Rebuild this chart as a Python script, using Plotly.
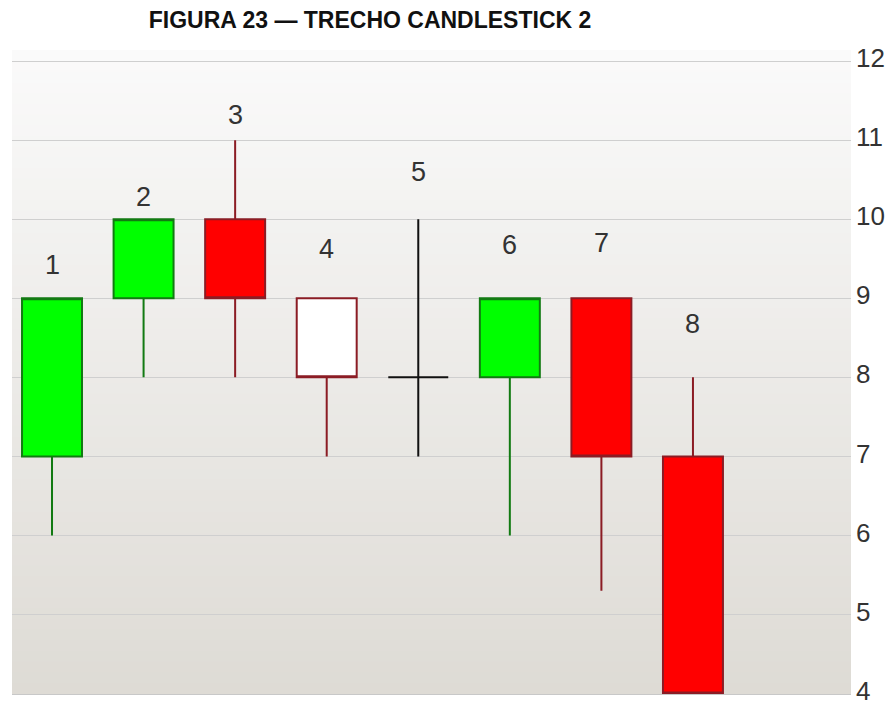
import plotly.graph_objects as go

# candle data (1..8)
candle_ids = [1, 2, 3, 4, 5, 6, 7, 8]
opens = [7, 9, 10, 9, 8, 8, 9, 7]
highs = [9, 10, 11, 9, 10, 9, 9, 8]
lows = [6, 8, 8, 7, 7, 6, 5.3, 4]
closes = [9, 10, 9, 8, 8, 9, 7, 4]
label_y = [9.42, 10.28, 11.32, 9.62, 10.6, 9.68, 9.7, 8.67]
y_ticks = [4, 5, 6, 7, 8, 9, 10, 11, 12]

GREEN = "#00ff00"
GREEN_LINE = "#127a12"
RED = "#ff0000"
RED_LINE = "#8b1c24"
FONT = "Liberation Sans, Arial"

filled = [0, 1, 2, 5, 6, 7]
hollow = [3]
doji = [4]


def pick(vals, idx):
    return [vals[i] for i in idx]


def candle(idx, inc_fill, inc_line, dec_fill, dec_line):
    return go.Candlestick(
        x=pick(candle_ids, idx),
        open=pick(opens, idx),
        high=pick(highs, idx),
        low=pick(lows, idx),
        close=pick(closes, idx),
        increasing=dict(fillcolor=inc_fill, line=dict(color=inc_line, width=2)),
        decreasing=dict(fillcolor=dec_fill, line=dict(color=dec_line, width=2)),
        whiskerwidth=0,
        showlegend=False,
        hoverinfo="skip",
    )


fig = go.Figure()
fig.add_trace(candle(filled, GREEN, GREEN_LINE, RED, RED_LINE))
fig.add_trace(candle(hollow, "#ffffff", RED_LINE, "#ffffff", RED_LINE))
fig.add_trace(candle(doji, "#111111", "#111111", "#111111", "#111111"))

for cid, ly in zip(candle_ids, label_y):
    fig.add_annotation(
        x=cid, y=ly, text=str(cid), showarrow=False,
        font=dict(size=27, color="#333333", family=FONT),
    )

# soft vertical gradient behind the plot (stacked rects, no seams)
n_strips = 60
top_rgb = (250, 250, 250)
bot_rgb = (222, 219, 213)
for i in range(n_strips):
    t = i / (n_strips - 1)
    c = tuple(round(top_rgb[k] + (bot_rgb[k] - top_rgb[k]) * t) for k in range(3))
    fig.add_shape(
        type="rect", xref="paper", yref="paper",
        x0=0, x1=1, y0=0, y1=1 - i / n_strips,
        fillcolor="rgb(%d,%d,%d)" % c, line_width=0, layer="below",
    )

fig.update_layout(
    width=888,
    height=698,
    margin=dict(l=4, r=45, t=42, b=12, autoexpand=False),
    paper_bgcolor="#ffffff",
    plot_bgcolor="rgba(0,0,0,0)",
    boxgap=0.345,
    boxgroupgap=0,
    title=dict(
        text="<b>FIGURA 23 — TRECHO CANDLESTICK 2</b>",
        x=0.4077, xanchor="center", y=0.983, yanchor="middle",
        font=dict(size=23, color="#111111", family=FONT),
    ),
    xaxis=dict(
        range=[0.563, 9.726], showticklabels=False, showgrid=False,
        zeroline=False, rangeslider=dict(visible=False), fixedrange=True,
        showline=True, linecolor="#c8c8c8", linewidth=1,
    ),
    yaxis=dict(
        side="right", range=[3.995, 12.14], tickvals=y_ticks,
        showgrid=True, gridcolor="#cfcfcf", gridwidth=1, zeroline=False,
        tickfont=dict(size=26, color="#333333", family=FONT),
        ticks="", ticklabelstandoff=4, ticklabeloverflow="allow",
        ticklabelshift=-3, automargin=False,
    ),
)

fig.write_html("out.html")
